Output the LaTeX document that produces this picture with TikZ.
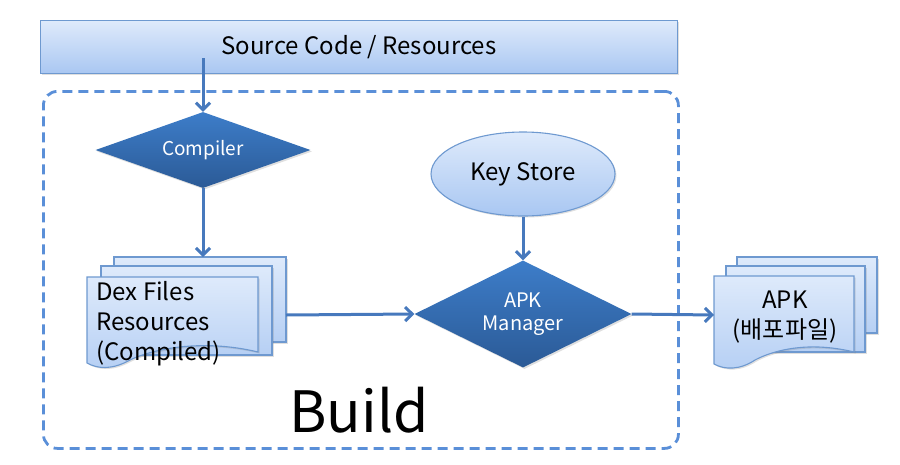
\documentclass[tikz,border=0pt]{standalone}
\usepackage{fontspec}
\setmainfont{Noto Sans CJK KR}
\usetikzlibrary{shapes.geometric,arrows.meta,shadows}
\definecolor{arrowc}{HTML}{4779BD}
\definecolor{lighttop}{HTML}{DEEAFB}
\definecolor{lightbot}{HTML}{A9C7F2}
\definecolor{lightline}{HTML}{6E99D0}
\definecolor{darktop}{HTML}{3D7DC9}
\definecolor{darkbot}{HTML}{2B5A96}
\definecolor{dashc}{HTML}{5A8FD8}
\begin{document}
\begin{tikzpicture}[x=1pt,y=-1pt,
  conn/.style={draw=arrowc,line width=3pt,-{Straight Barb[length=7pt,width=14pt,line width=3pt]}},
  lightfill/.style={draw=lightline,line width=1.1pt,top color=lighttop,bottom color=lightbot},
  pagefill/.style={draw=lightline,line width=1.1pt,top color=lighttop,bottom color=lightbot!85!white,
     drop shadow={shadow xshift=1.5pt,shadow yshift=-1.5pt,opacity=0.25}},
  darkdia/.style={diamond,inner sep=0pt,top color=darktop,bottom color=darkbot,text=white,
     drop shadow={shadow xshift=1.5pt,shadow yshift=-1.5pt,opacity=0.25},align=center},
  lbl/.style={font=\fontsize{24}{30}\selectfont}
]
\useasboundingbox (0,0) rectangle (900,464);
% source box
\node[lightfill,rectangle,minimum width=637pt,minimum height=53pt,anchor=north west,
  drop shadow={shadow xshift=1.5pt,shadow yshift=-1.5pt,opacity=0.25}] (src) at (40,20) {};
\node[lbl] (srctxt) at (359,47) {Source Code / Resources};
\coordinate (srcout) at (203,58);
% build region
\node[draw=dashc,line width=2.8pt,dash pattern=on 10pt off 6pt,rounded corners=14pt,
  minimum width=635pt,minimum height=357pt,anchor=north west] (build) at (42,90) {};
\node[font=\fontsize{57}{68}\selectfont] (buildtxt) at (359,410) {Build};
% compiler
\node[darkdia,aspect=2.8,minimum width=215pt,minimum height=76pt,font=\fontsize{19}{22}\selectfont] (compiler) at (203,150) {Compiler};
% dex docs
\path[pagefill] (114,257) rectangle (286,342);
\path[pagefill] (101,266) rectangle (272,355);
\path[pagefill] (87,277) -- (258,277) -- (258,352)
   .. controls (200,338) and (150,350) .. (130,360)
   .. controls (112,370) and (98,369) .. (87,363) -- cycle;
\coordinate (dextop) at (203,257);
\coordinate (dexright) at (286,315);
\node[lbl,align=left,anchor=north west,inner sep=0pt] (dex) at (96,281) {Dex Files\\Resources\\(Compiled)};
% key store
\node[ellipse,lightfill,minimum width=184pt,minimum height=84pt,lbl,
  drop shadow={shadow xshift=1.5pt,shadow yshift=-1.5pt,opacity=0.25}] (key) at (523,174) {Key Store};
% apk manager
\node[darkdia,aspect=2,minimum width=217pt,minimum height=107pt,font=\fontsize{20}{23}\selectfont] (apkm) at (523,314) {APK\\Manager};
% apk docs
\path[pagefill] (737,257) rectangle (877,333);
\path[pagefill] (726,266) rectangle (865,352);
\path[pagefill] (714,276) -- (854,276) -- (854,352)
   .. controls (805,340) and (770,352) .. (755,360)
   .. controls (740,370) and (725,370) .. (714,364) -- cycle;
\coordinate (apkleft) at (714,315);
\node[lbl,align=center] (apk) at (785,317) {APK\\(배포파일)};
% connectors
\draw[conn] (srcout) -- (compiler.north);
\draw[conn] (compiler.south) -- (dextop);
\draw[conn] (dexright) -- (apkm.west);
\draw[conn] (key.south) -- (apkm.north);
\draw[conn] (apkm.east) -- (apkleft);
\end{tikzpicture}
\end{document}
